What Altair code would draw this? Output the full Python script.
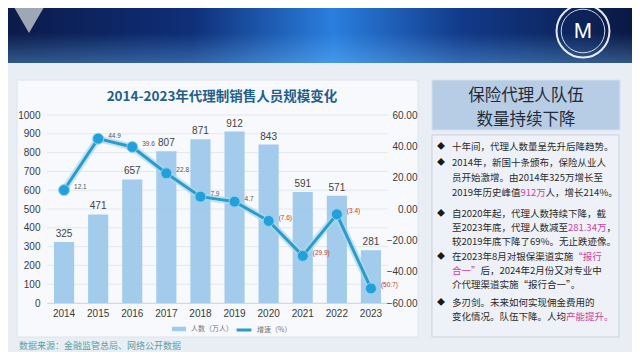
import altair as alt
import pandas as pd

# ---------------- data ----------------
years = ["2014", "2015", "2016", "2017", "2018", "2019", "2020", "2021", "2022", "2023"]
agents = [325, 471, 657, 807, 871, 912, 843, 591, 571, 281]          # 人数（万人）
growth = [12.1, 44.9, 39.6, 22.8, 7.9, 4.7, -7.6, -29.9, -3.4, -50.7]  # 增速（%）
left_ticks = [0, 100, 200, 300, 400, 500, 600, 700, 800, 900, 1000]
right_ticks = [-60, -40, -20, 0, 20, 40, 60]

chart_title = "2014-2023年代理制销售人员规模变化"
bar_series = "人数（万人）"
line_series = "增速（%）"
source_text = "数据来源：金融监管总局、网络公开数据"
panel_title = ["保险代理人队伍", "数量持续下降"]
# each row: (bullet?, [(text, highlighted?) ...])
panel_rows = [
    (True, [("十年间，代理人数量呈先升后降趋势。", False)]),
    (True, [("2014年，新国十条颁布，保险从业人", False)]),
    (False, [("员开始激增。由2014年325万增长至", False)]),
    (False, [("2019年历史峰值", False), ("912万", True), ("人，增长214%。", False)]),
    (True, [("自2020年起，代理人数持续下降，截", False)]),
    (False, [("至2023年底，代理人数减至", False), ("281.34万", True), ("，", False)]),
    (False, [("较2019年底下降了69%。无止跌迹像。", False)]),
    (True, [("在2023年8月对银保渠道实施", False), ("“报行", True)]),
    (False, [("合一”", True), ("后，2024年2月份又对专业中", False)]),
    (False, [("介代理渠道实施“报行合一”。", False)]),
    (True, [("多刃剑。未来如何实现佣金费用的", False)]),
    (False, [("变化情况。队伍下降。人均", False), ("产能提升。", True)]),
]
row_y = [32, 48, 63, 78, 99, 113, 127, 142, 156, 170, 188, 202]

df = pd.DataFrame({
    "year": years,
    "agents": agents,
    "growth": growth,
    "glabel": [f"{v:.1f}" if v >= 0 else f"({abs(v):.1f})" for v in growth],
    "s1": bar_series,
    "s2": line_series,
})
grid_df = pd.DataFrame({"agents": left_ticks})

CJK = "Noto Sans CJK SC"
LAT = "Liberation Sans"

# ---------------- main chart ----------------
x_enc = alt.X(
    "year:N", title=None,
    scale=alt.Scale(paddingInner=0.41, paddingOuter=0.205),
    axis=alt.Axis(labelAngle=0, ticks=False, domainColor="#d3d9e0", labelPadding=5, zindex=1,
                  labelFont=LAT, labelFontSize=10, labelColor="#3a3a3a"),
)
y_left = alt.Y("agents:Q", title=None, scale=alt.Scale(domain=[0, 1000]),
               axis=alt.Axis(orient="left", values=left_ticks, format="d", grid=False, zindex=1,
                             ticks=False, domain=False, labelPadding=7, labelFont=LAT,
                             labelFontSize=10, labelColor="#3a3a3a"))
y_right = alt.Y("growth:Q", title=None, scale=alt.Scale(domain=[-60, 60]),
                axis=alt.Axis(orient="right", values=right_ticks, format=".2f", grid=False,
                              ticks=False, domain=False, labelAlign="right", labelPadding=29,
                              zindex=1, labelFont=LAT, labelFontSize=10, labelColor="#3a3a3a"))

grid = alt.Chart(grid_df).mark_rule(color="#e3e8ee", strokeWidth=1).encode(y=y_left)
bars = alt.Chart(df).mark_bar(opacity=0.95).encode(
    x=x_enc,
    y=y_left,
    color=alt.Color("s1:N", scale=alt.Scale(range=["#9dc8eb"]),
                    legend=alt.Legend(orient="none", legendX=124, legendY=206, title=None,
                                      symbolType="M-1,-0.32H1V0.32H-1Z", symbolSize=200,
                                      labelFont=CJK, labelFontSize=7, labelColor="#777")),
)
bar_labels = alt.Chart(df).mark_text(dy=-8, fontSize=10, font=LAT, color="#444").encode(
    x=x_enc, y=y_left, text="agents:Q")
bar_layer = alt.layer(grid, bars, bar_labels)

glow = alt.Chart(df).mark_line(strokeWidth=7, color="#a9d8ee", opacity=0.7).encode(
    x=x_enc, y=y_right)
line = alt.Chart(df).mark_line(strokeWidth=3).encode(
    x=x_enc, y=y_right,
    color=alt.Color("s2:N", scale=alt.Scale(range=["#2b9cc8"]),
                    legend=alt.Legend(orient="none", legendX=188, legendY=206, title=None,
                                      symbolType="stroke", symbolStrokeWidth=3, symbolSize=220,
                                      labelFont=CJK, labelFontSize=7, labelColor="#777")),
)
pts = alt.Chart(df).mark_point(filled=True, size=120, color="#22a0da", opacity=1,
                               stroke="#8fd0ee", strokeWidth=1).encode(x=x_enc, y=y_right)
line_labels = alt.Chart(df).mark_text(align="left", dx=10, dy=-3, fontSize=6.5, font=LAT).encode(
    x=x_enc, y=y_right, text="glabel:N",
    color=alt.condition(alt.datum.growth < 0, alt.value("#c0392b"), alt.value("#555555")),
)
line_layer = alt.layer(glow, line, pts, line_labels)

main = alt.layer(bar_layer, line_layer).resolve_scale(y="independent", color="independent")

# ---------------- decorations ----------------
one = pd.DataFrame({"k": [0]})


def rect(x1, x2, y1, y2, **kw):
    return alt.Chart(one).mark_rect(**kw).encode(
        x=alt.value(x1), x2=alt.value(x2), y=alt.value(y1), y2=alt.value(y2))


def txt(x, y, s, **kw):
    return alt.Chart(pd.DataFrame({"t": [s]})).mark_text(**kw).encode(
        x=alt.value(x), y=alt.value(y), text="t:N")


def w(s, fs):
    tot = 0.0
    for ch in s:
        if ch.isdigit():
            tot += 0.55
        elif ch == ".":
            tot += 0.3
        elif ch == "%":
            tot += 0.85
        elif ord(ch) > 0x2000:
            tot += 1.0
        else:
            tot += 0.5
    return tot * fs


banner_grad = alt.LinearGradient(
    gradient="linear", x1=0, x2=1, y1=0, y2=0,
    stops=[alt.GradientStop(color="#0b1a48", offset=0),
           alt.GradientStop(color="#0f2f78", offset=0.3),
           alt.GradientStop(color="#2a7fde", offset=0.52),
           alt.GradientStop(color="#123a8a", offset=0.72),
           alt.GradientStop(color="#0a1740", offset=1)])
shine = alt.LinearGradient(
    gradient="linear", x1=0, x2=0, y1=0, y2=1,
    stops=[alt.GradientStop(color="rgba(120,200,255,0)", offset=0),
           alt.GradientStop(color="rgba(120,200,255,0.35)", offset=1)])

deco = [
    rect(-47, 593, -115, -52, color=banner_grad),
    rect(-47, 593, -82, -52, color=shine),
    alt.Chart(one).mark_point(shape="triangle-down", size=2600, filled=True,
                              color="#a7afb9", opacity=0.95).encode(
        x=alt.value(-18), y=alt.value(-104)),
    alt.Chart(one).mark_point(shape="circle", size=2800, filled=False, color="#ffffff",
                              strokeWidth=2, opacity=0.9).encode(
        x=alt.value(536), y=alt.value(-84)),
    alt.Chart(one).mark_point(shape="circle", size=1900, filled=False, color="#ffffff",
                              strokeWidth=1, opacity=0.8).encode(
        x=alt.value(536), y=alt.value(-84)),
    txt(536, -84, "M", font=LAT, fontSize=22, color="#ffffff",
        baseline="middle", align="center"),
    # left chart panel
    rect(-30, 371, -35, 222, color="#f7f9fc", stroke="#dde4ec", strokeWidth=1),
    # right panel
    rect(385, 573, -35, 15, color="#b7cde5", stroke="#d6e2ef", strokeWidth=1),
    rect(385, 572, 20, 222, color="#eef2f8", stroke="#c7d1dd", strokeWidth=1),
]

texts = [
    txt(175, -18, chart_title, font=CJK, fontSize=13.5, fontWeight="bold",
        color="#1f5f8a", align="center", baseline="middle"),
    txt(-28, 231, source_text, font=CJK, fontSize=9, color="#5f9ea6",
        align="left", baseline="middle"),
    txt(479, -19, panel_title[0], font=CJK, fontSize=16.5, color="#1f2b3a",
        align="center", baseline="middle"),
    txt(479, 5, panel_title[1], font=CJK, fontSize=16.5, color="#1f2b3a",
        align="center", baseline="middle"),
]
FS = 9.5
for (bullet, segs), yy in zip(panel_rows, row_y):
    if bullet:
        texts.append(txt(394, yy, "◆", font=CJK, fontSize=8, color="#1a1a1a",
                         align="center", baseline="middle"))
    xx = 405
    for s, hl in segs:
        texts.append(txt(xx, yy, s, font=CJK, fontSize=FS,
                         color="#cc3f9f" if hl else "#2a2a2a",
                         align="left", baseline="middle"))
        xx += w(s, FS)

chart = alt.layer(*deco, main, *texts).properties(
    width=341, height=188,
    autosize=alt.AutoSizeParams(type="none"),
    padding={"left": 39, "top": 107, "right": 244, "bottom": 49},
    background="#e9eef4",
).configure_view(stroke=None)

chart.save("out.html", embed_options={"renderer": "svg", "actions": False})
